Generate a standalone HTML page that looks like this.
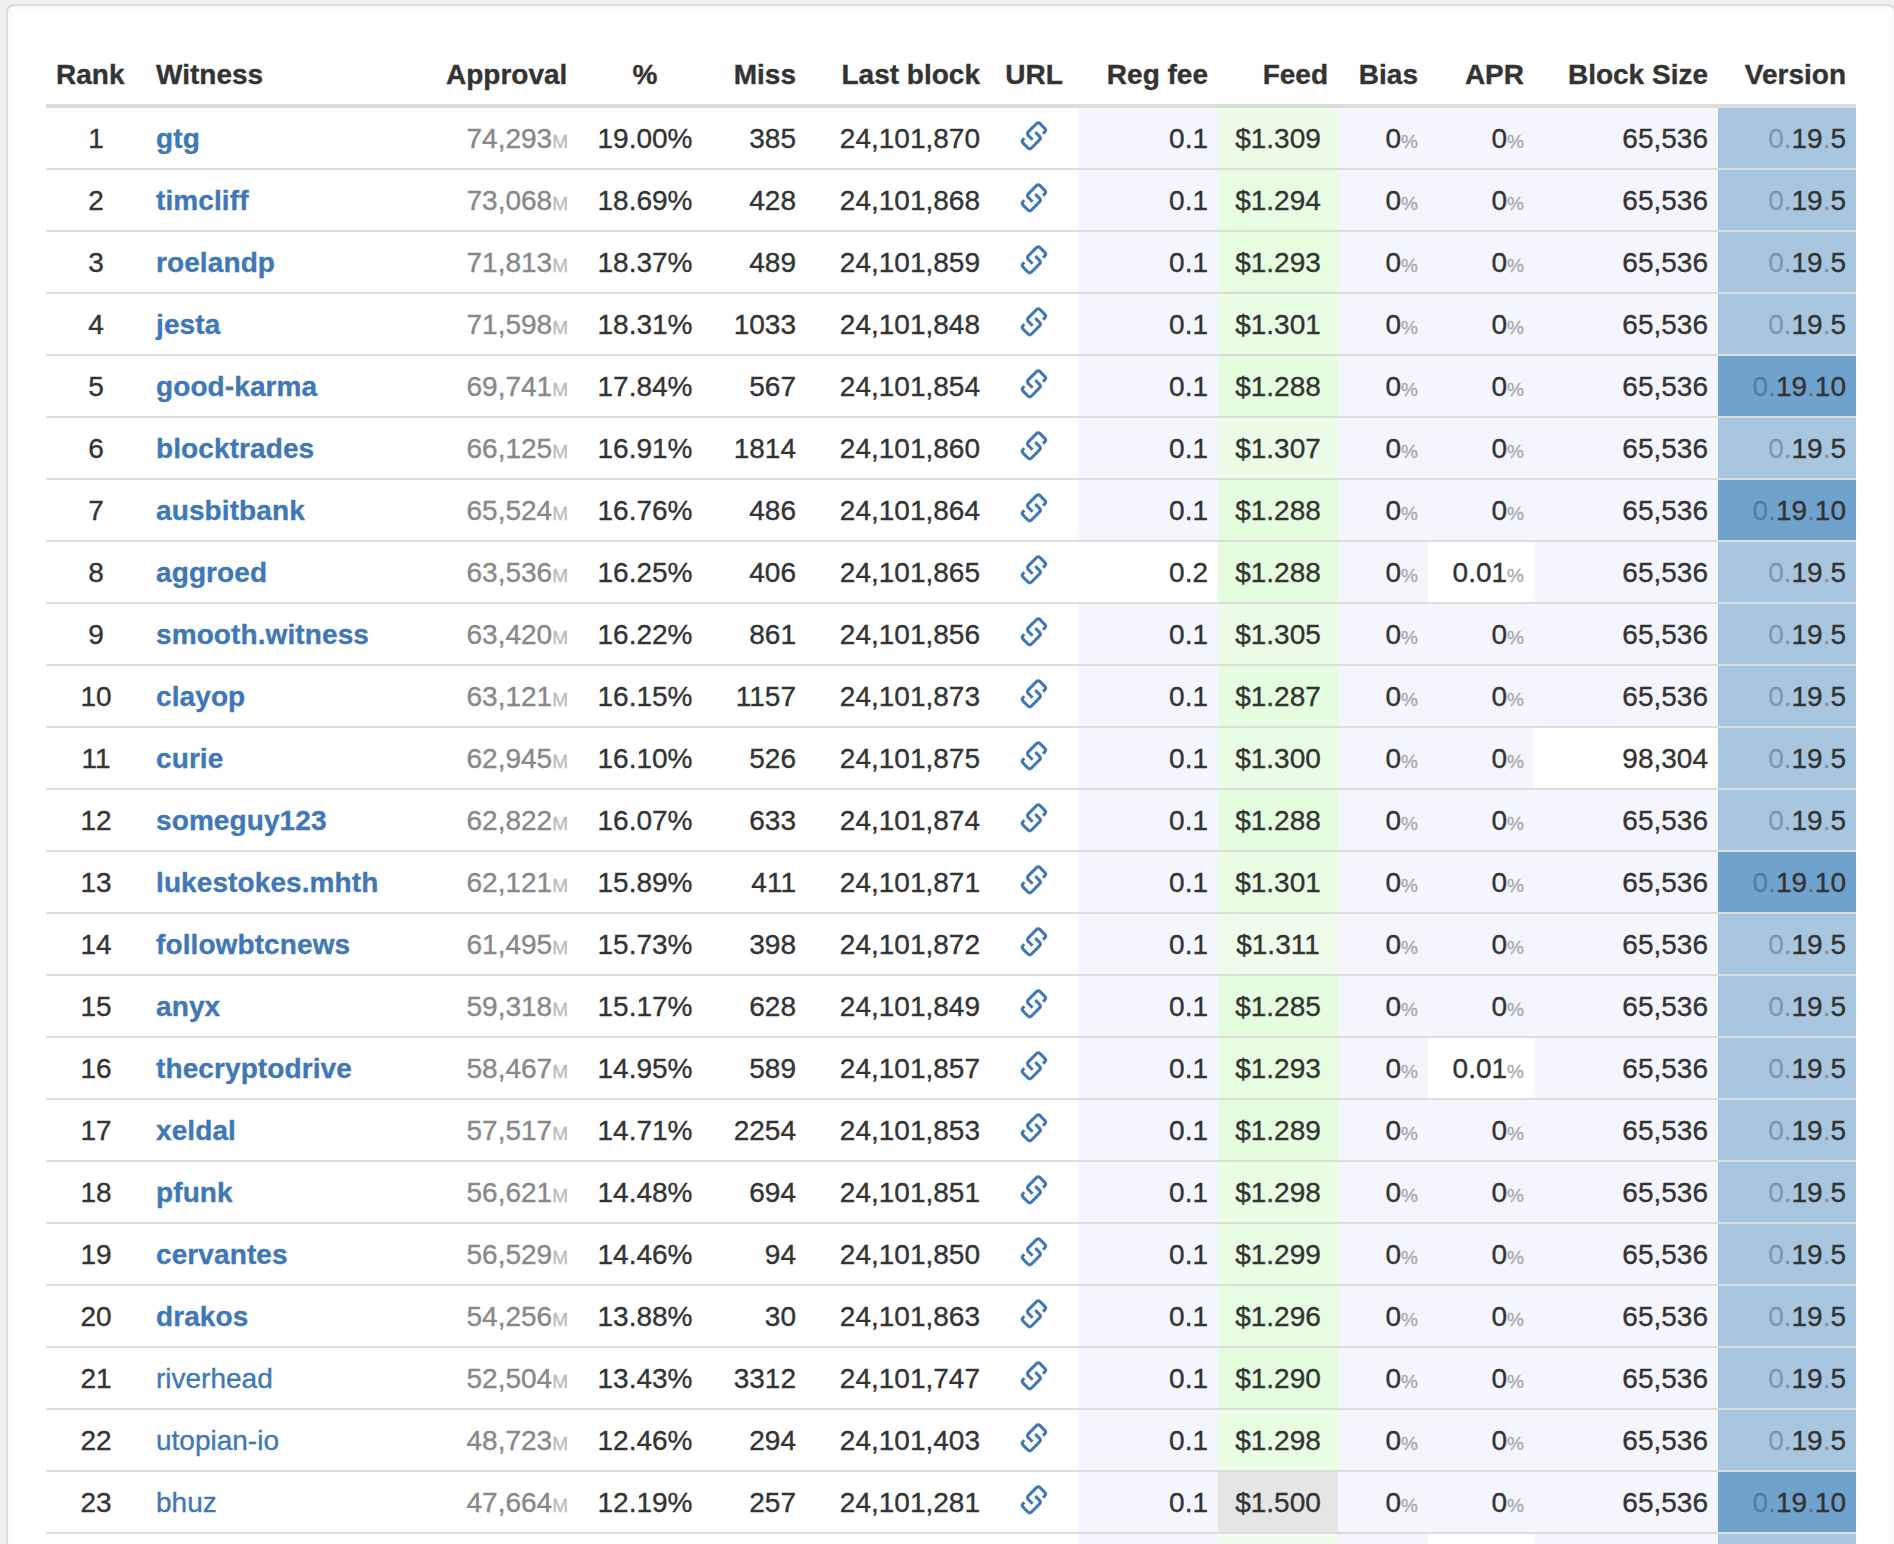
<!DOCTYPE html>
<html><head><meta charset="utf-8"><title>Witnesses</title>
<style>
html,body{margin:0;padding:0;}
body{width:1894px;height:1544px;overflow:hidden;background:#f0f0f0;font-family:"Liberation Sans",sans-serif;color:#333;position:relative;}
.panel{position:absolute;left:6px;top:4px;width:1890px;height:1700px;background:#fff;border:2px solid #dadada;border-radius:8px;box-sizing:border-box;box-shadow:inset 0 2px 8px rgba(0,0,0,0.04);}
table{position:absolute;left:46px;top:44px;width:1810px;border-collapse:separate;border-spacing:0;table-layout:fixed;font-size:28px;line-height:40px;}
th,td{padding:11px 10px 9px 10px;white-space:nowrap;overflow:visible;-webkit-text-stroke:0.35px currentColor;}
th{font-weight:bold;text-align:right;border-bottom:4px solid #ddd;vertical-align:bottom;}
td{border-bottom:2px solid #ddd;text-align:left;}
th.l{text-align:left;} th.c{text-align:center;}
td.c{text-align:center;} td.r{text-align:right;}
a{color:#3f78b5;text-decoration:none;}
a.b{font-weight:bold;letter-spacing:0.1px;}
.ap{color:#888;padding-right:9px;}
.m{font-size:19px;color:#bbb;line-height:1px;}
.pc{font-size:19px;color:#aaa;line-height:1px;}
.dim{color:rgba(0,0,0,0.24);}
.lav{background:#f5f5fe;}
.grn{background:#eaffe6;}
.gry{background:#e5e5e5;}
.vb1{background:#a8c6e0;}
.vb2{background:#6fa2cd;}
.lk{position:absolute;left:24px;top:8px;-webkit-text-stroke:0;}
td.u{position:relative;}
</style></head><body>
<div class="panel"></div>
<table>
<colgroup><col style="width:100px"><col style="width:290px"><col style="width:141px"><col style="width:136px"><col style="width:93px"><col style="width:184px"><col style="width:88px"><col style="width:140px"><col style="width:120px"><col style="width:90px"><col style="width:106px"><col style="width:184px"><col style="width:138px"></colgroup>
<thead><tr><th class="l">Rank</th><th class="l">Witness</th><th>Approval</th><th class="c">%</th><th>Miss</th><th>Last block</th><th class="c">URL</th><th>Reg fee</th><th>Feed</th><th>Bias</th><th>APR</th><th>Block Size</th><th>Version</th></tr></thead>
<tbody>
<tr><td class="c">1</td><td><a class="b">gtg</a></td><td class="r ap">74,293<span class="m">M</span></td><td class="c">19.00%</td><td class="r">385</td><td class="r">24,101,870</td><td class="c u"><svg class="lk" width="40" height="40" viewBox="4 1 40 40"><g transform="rotate(-45)" fill="none" stroke="#3f78b5" stroke-width="3" stroke-linejoin="round"><path d="M-1.53 33.5V27.34A2.5 2.5 0 0 1 0.97 24.84H12.64A2.5 2.5 0 0 1 15.14 27.34V34.05A2.5 2.5 0 0 1 12.64 36.55H10.2"/><path d="M5.76 30.0V36.00A2.5 2.5 0 0 1 3.26 38.5H-8.10A2.5 2.5 0 0 1 -10.6 36.00V29.10A2.5 2.5 0 0 1 -8.10 26.6H-6.3"/></g></svg></td><td class="r lav">0.1</td><td class="c " style="background:#edfce7">$1.309</td><td class="r lav">0<span class="pc">%</span></td><td class="r lav">0<span class="pc">%</span></td><td class="r lav">65,536</td><td class="r vb1"><span class="dim">0.</span>19<span class="dim">.</span>5</td></tr>
<tr><td class="c">2</td><td><a class="b">timcliff</a></td><td class="r ap">73,068<span class="m">M</span></td><td class="c">18.69%</td><td class="r">428</td><td class="r">24,101,868</td><td class="c u"><svg class="lk" width="40" height="40" viewBox="4 1 40 40"><g transform="rotate(-45)" fill="none" stroke="#3f78b5" stroke-width="3" stroke-linejoin="round"><path d="M-1.53 33.5V27.34A2.5 2.5 0 0 1 0.97 24.84H12.64A2.5 2.5 0 0 1 15.14 27.34V34.05A2.5 2.5 0 0 1 12.64 36.55H10.2"/><path d="M5.76 30.0V36.00A2.5 2.5 0 0 1 3.26 38.5H-8.10A2.5 2.5 0 0 1 -10.6 36.00V29.10A2.5 2.5 0 0 1 -8.10 26.6H-6.3"/></g></svg></td><td class="r lav">0.1</td><td class="c " style="background:#e6fde1">$1.294</td><td class="r lav">0<span class="pc">%</span></td><td class="r lav">0<span class="pc">%</span></td><td class="r lav">65,536</td><td class="r vb1"><span class="dim">0.</span>19<span class="dim">.</span>5</td></tr>
<tr><td class="c">3</td><td><a class="b">roelandp</a></td><td class="r ap">71,813<span class="m">M</span></td><td class="c">18.37%</td><td class="r">489</td><td class="r">24,101,859</td><td class="c u"><svg class="lk" width="40" height="40" viewBox="4 1 40 40"><g transform="rotate(-45)" fill="none" stroke="#3f78b5" stroke-width="3" stroke-linejoin="round"><path d="M-1.53 33.5V27.34A2.5 2.5 0 0 1 0.97 24.84H12.64A2.5 2.5 0 0 1 15.14 27.34V34.05A2.5 2.5 0 0 1 12.64 36.55H10.2"/><path d="M5.76 30.0V36.00A2.5 2.5 0 0 1 3.26 38.5H-8.10A2.5 2.5 0 0 1 -10.6 36.00V29.10A2.5 2.5 0 0 1 -8.10 26.6H-6.3"/></g></svg></td><td class="r lav">0.1</td><td class="c " style="background:#e6fde0">$1.293</td><td class="r lav">0<span class="pc">%</span></td><td class="r lav">0<span class="pc">%</span></td><td class="r lav">65,536</td><td class="r vb1"><span class="dim">0.</span>19<span class="dim">.</span>5</td></tr>
<tr><td class="c">4</td><td><a class="b">jesta</a></td><td class="r ap">71,598<span class="m">M</span></td><td class="c">18.31%</td><td class="r">1033</td><td class="r">24,101,848</td><td class="c u"><svg class="lk" width="40" height="40" viewBox="4 1 40 40"><g transform="rotate(-45)" fill="none" stroke="#3f78b5" stroke-width="3" stroke-linejoin="round"><path d="M-1.53 33.5V27.34A2.5 2.5 0 0 1 0.97 24.84H12.64A2.5 2.5 0 0 1 15.14 27.34V34.05A2.5 2.5 0 0 1 12.64 36.55H10.2"/><path d="M5.76 30.0V36.00A2.5 2.5 0 0 1 3.26 38.5H-8.10A2.5 2.5 0 0 1 -10.6 36.00V29.10A2.5 2.5 0 0 1 -8.10 26.6H-6.3"/></g></svg></td><td class="r lav">0.1</td><td class="c " style="background:#e9fde3">$1.301</td><td class="r lav">0<span class="pc">%</span></td><td class="r lav">0<span class="pc">%</span></td><td class="r lav">65,536</td><td class="r vb1"><span class="dim">0.</span>19<span class="dim">.</span>5</td></tr>
<tr><td class="c">5</td><td><a class="b">good-karma</a></td><td class="r ap">69,741<span class="m">M</span></td><td class="c">17.84%</td><td class="r">567</td><td class="r">24,101,854</td><td class="c u"><svg class="lk" width="40" height="40" viewBox="4 1 40 40"><g transform="rotate(-45)" fill="none" stroke="#3f78b5" stroke-width="3" stroke-linejoin="round"><path d="M-1.53 33.5V27.34A2.5 2.5 0 0 1 0.97 24.84H12.64A2.5 2.5 0 0 1 15.14 27.34V34.05A2.5 2.5 0 0 1 12.64 36.55H10.2"/><path d="M5.76 30.0V36.00A2.5 2.5 0 0 1 3.26 38.5H-8.10A2.5 2.5 0 0 1 -10.6 36.00V29.10A2.5 2.5 0 0 1 -8.10 26.6H-6.3"/></g></svg></td><td class="r lav">0.1</td><td class="c " style="background:#e5fddf">$1.288</td><td class="r lav">0<span class="pc">%</span></td><td class="r lav">0<span class="pc">%</span></td><td class="r lav">65,536</td><td class="r vb2"><span class="dim">0.</span>19<span class="dim">.</span>10</td></tr>
<tr><td class="c">6</td><td><a class="b">blocktrades</a></td><td class="r ap">66,125<span class="m">M</span></td><td class="c">16.91%</td><td class="r">1814</td><td class="r">24,101,860</td><td class="c u"><svg class="lk" width="40" height="40" viewBox="4 1 40 40"><g transform="rotate(-45)" fill="none" stroke="#3f78b5" stroke-width="3" stroke-linejoin="round"><path d="M-1.53 33.5V27.34A2.5 2.5 0 0 1 0.97 24.84H12.64A2.5 2.5 0 0 1 15.14 27.34V34.05A2.5 2.5 0 0 1 12.64 36.55H10.2"/><path d="M5.76 30.0V36.00A2.5 2.5 0 0 1 3.26 38.5H-8.10A2.5 2.5 0 0 1 -10.6 36.00V29.10A2.5 2.5 0 0 1 -8.10 26.6H-6.3"/></g></svg></td><td class="r lav">0.1</td><td class="c " style="background:#ebfce6">$1.307</td><td class="r lav">0<span class="pc">%</span></td><td class="r lav">0<span class="pc">%</span></td><td class="r lav">65,536</td><td class="r vb1"><span class="dim">0.</span>19<span class="dim">.</span>5</td></tr>
<tr><td class="c">7</td><td><a class="b">ausbitbank</a></td><td class="r ap">65,524<span class="m">M</span></td><td class="c">16.76%</td><td class="r">486</td><td class="r">24,101,864</td><td class="c u"><svg class="lk" width="40" height="40" viewBox="4 1 40 40"><g transform="rotate(-45)" fill="none" stroke="#3f78b5" stroke-width="3" stroke-linejoin="round"><path d="M-1.53 33.5V27.34A2.5 2.5 0 0 1 0.97 24.84H12.64A2.5 2.5 0 0 1 15.14 27.34V34.05A2.5 2.5 0 0 1 12.64 36.55H10.2"/><path d="M5.76 30.0V36.00A2.5 2.5 0 0 1 3.26 38.5H-8.10A2.5 2.5 0 0 1 -10.6 36.00V29.10A2.5 2.5 0 0 1 -8.10 26.6H-6.3"/></g></svg></td><td class="r lav">0.1</td><td class="c " style="background:#e5fddf">$1.288</td><td class="r lav">0<span class="pc">%</span></td><td class="r lav">0<span class="pc">%</span></td><td class="r lav">65,536</td><td class="r vb2"><span class="dim">0.</span>19<span class="dim">.</span>10</td></tr>
<tr><td class="c">8</td><td><a class="b">aggroed</a></td><td class="r ap">63,536<span class="m">M</span></td><td class="c">16.25%</td><td class="r">406</td><td class="r">24,101,865</td><td class="c u"><svg class="lk" width="40" height="40" viewBox="4 1 40 40"><g transform="rotate(-45)" fill="none" stroke="#3f78b5" stroke-width="3" stroke-linejoin="round"><path d="M-1.53 33.5V27.34A2.5 2.5 0 0 1 0.97 24.84H12.64A2.5 2.5 0 0 1 15.14 27.34V34.05A2.5 2.5 0 0 1 12.64 36.55H10.2"/><path d="M5.76 30.0V36.00A2.5 2.5 0 0 1 3.26 38.5H-8.10A2.5 2.5 0 0 1 -10.6 36.00V29.10A2.5 2.5 0 0 1 -8.10 26.6H-6.3"/></g></svg></td><td class="r ">0.2</td><td class="c " style="background:#e5fddf">$1.288</td><td class="r lav">0<span class="pc">%</span></td><td class="r ">0.01<span class="pc">%</span></td><td class="r lav">65,536</td><td class="r vb1"><span class="dim">0.</span>19<span class="dim">.</span>5</td></tr>
<tr><td class="c">9</td><td><a class="b">smooth.witness</a></td><td class="r ap">63,420<span class="m">M</span></td><td class="c">16.22%</td><td class="r">861</td><td class="r">24,101,856</td><td class="c u"><svg class="lk" width="40" height="40" viewBox="4 1 40 40"><g transform="rotate(-45)" fill="none" stroke="#3f78b5" stroke-width="3" stroke-linejoin="round"><path d="M-1.53 33.5V27.34A2.5 2.5 0 0 1 0.97 24.84H12.64A2.5 2.5 0 0 1 15.14 27.34V34.05A2.5 2.5 0 0 1 12.64 36.55H10.2"/><path d="M5.76 30.0V36.00A2.5 2.5 0 0 1 3.26 38.5H-8.10A2.5 2.5 0 0 1 -10.6 36.00V29.10A2.5 2.5 0 0 1 -8.10 26.6H-6.3"/></g></svg></td><td class="r lav">0.1</td><td class="c " style="background:#eafce5">$1.305</td><td class="r lav">0<span class="pc">%</span></td><td class="r lav">0<span class="pc">%</span></td><td class="r lav">65,536</td><td class="r vb1"><span class="dim">0.</span>19<span class="dim">.</span>5</td></tr>
<tr><td class="c">10</td><td><a class="b">clayop</a></td><td class="r ap">63,121<span class="m">M</span></td><td class="c">16.15%</td><td class="r">1157</td><td class="r">24,101,873</td><td class="c u"><svg class="lk" width="40" height="40" viewBox="4 1 40 40"><g transform="rotate(-45)" fill="none" stroke="#3f78b5" stroke-width="3" stroke-linejoin="round"><path d="M-1.53 33.5V27.34A2.5 2.5 0 0 1 0.97 24.84H12.64A2.5 2.5 0 0 1 15.14 27.34V34.05A2.5 2.5 0 0 1 12.64 36.55H10.2"/><path d="M5.76 30.0V36.00A2.5 2.5 0 0 1 3.26 38.5H-8.10A2.5 2.5 0 0 1 -10.6 36.00V29.10A2.5 2.5 0 0 1 -8.10 26.6H-6.3"/></g></svg></td><td class="r lav">0.1</td><td class="c " style="background:#e5fddf">$1.287</td><td class="r lav">0<span class="pc">%</span></td><td class="r lav">0<span class="pc">%</span></td><td class="r lav">65,536</td><td class="r vb1"><span class="dim">0.</span>19<span class="dim">.</span>5</td></tr>
<tr><td class="c">11</td><td><a class="b">curie</a></td><td class="r ap">62,945<span class="m">M</span></td><td class="c">16.10%</td><td class="r">526</td><td class="r">24,101,875</td><td class="c u"><svg class="lk" width="40" height="40" viewBox="4 1 40 40"><g transform="rotate(-45)" fill="none" stroke="#3f78b5" stroke-width="3" stroke-linejoin="round"><path d="M-1.53 33.5V27.34A2.5 2.5 0 0 1 0.97 24.84H12.64A2.5 2.5 0 0 1 15.14 27.34V34.05A2.5 2.5 0 0 1 12.64 36.55H10.2"/><path d="M5.76 30.0V36.00A2.5 2.5 0 0 1 3.26 38.5H-8.10A2.5 2.5 0 0 1 -10.6 36.00V29.10A2.5 2.5 0 0 1 -8.10 26.6H-6.3"/></g></svg></td><td class="r lav">0.1</td><td class="c " style="background:#e8fde3">$1.300</td><td class="r lav">0<span class="pc">%</span></td><td class="r lav">0<span class="pc">%</span></td><td class="r ">98,304</td><td class="r vb1"><span class="dim">0.</span>19<span class="dim">.</span>5</td></tr>
<tr><td class="c">12</td><td><a class="b">someguy123</a></td><td class="r ap">62,822<span class="m">M</span></td><td class="c">16.07%</td><td class="r">633</td><td class="r">24,101,874</td><td class="c u"><svg class="lk" width="40" height="40" viewBox="4 1 40 40"><g transform="rotate(-45)" fill="none" stroke="#3f78b5" stroke-width="3" stroke-linejoin="round"><path d="M-1.53 33.5V27.34A2.5 2.5 0 0 1 0.97 24.84H12.64A2.5 2.5 0 0 1 15.14 27.34V34.05A2.5 2.5 0 0 1 12.64 36.55H10.2"/><path d="M5.76 30.0V36.00A2.5 2.5 0 0 1 3.26 38.5H-8.10A2.5 2.5 0 0 1 -10.6 36.00V29.10A2.5 2.5 0 0 1 -8.10 26.6H-6.3"/></g></svg></td><td class="r lav">0.1</td><td class="c " style="background:#e5fddf">$1.288</td><td class="r lav">0<span class="pc">%</span></td><td class="r lav">0<span class="pc">%</span></td><td class="r lav">65,536</td><td class="r vb1"><span class="dim">0.</span>19<span class="dim">.</span>5</td></tr>
<tr><td class="c">13</td><td><a class="b">lukestokes.mhth</a></td><td class="r ap">62,121<span class="m">M</span></td><td class="c">15.89%</td><td class="r">411</td><td class="r">24,101,871</td><td class="c u"><svg class="lk" width="40" height="40" viewBox="4 1 40 40"><g transform="rotate(-45)" fill="none" stroke="#3f78b5" stroke-width="3" stroke-linejoin="round"><path d="M-1.53 33.5V27.34A2.5 2.5 0 0 1 0.97 24.84H12.64A2.5 2.5 0 0 1 15.14 27.34V34.05A2.5 2.5 0 0 1 12.64 36.55H10.2"/><path d="M5.76 30.0V36.00A2.5 2.5 0 0 1 3.26 38.5H-8.10A2.5 2.5 0 0 1 -10.6 36.00V29.10A2.5 2.5 0 0 1 -8.10 26.6H-6.3"/></g></svg></td><td class="r lav">0.1</td><td class="c " style="background:#e9fde3">$1.301</td><td class="r lav">0<span class="pc">%</span></td><td class="r lav">0<span class="pc">%</span></td><td class="r lav">65,536</td><td class="r vb2"><span class="dim">0.</span>19<span class="dim">.</span>10</td></tr>
<tr><td class="c">14</td><td><a class="b">followbtcnews</a></td><td class="r ap">61,495<span class="m">M</span></td><td class="c">15.73%</td><td class="r">398</td><td class="r">24,101,872</td><td class="c u"><svg class="lk" width="40" height="40" viewBox="4 1 40 40"><g transform="rotate(-45)" fill="none" stroke="#3f78b5" stroke-width="3" stroke-linejoin="round"><path d="M-1.53 33.5V27.34A2.5 2.5 0 0 1 0.97 24.84H12.64A2.5 2.5 0 0 1 15.14 27.34V34.05A2.5 2.5 0 0 1 12.64 36.55H10.2"/><path d="M5.76 30.0V36.00A2.5 2.5 0 0 1 3.26 38.5H-8.10A2.5 2.5 0 0 1 -10.6 36.00V29.10A2.5 2.5 0 0 1 -8.10 26.6H-6.3"/></g></svg></td><td class="r lav">0.1</td><td class="c " style="background:#effcea">$1.311</td><td class="r lav">0<span class="pc">%</span></td><td class="r lav">0<span class="pc">%</span></td><td class="r lav">65,536</td><td class="r vb1"><span class="dim">0.</span>19<span class="dim">.</span>5</td></tr>
<tr><td class="c">15</td><td><a class="b">anyx</a></td><td class="r ap">59,318<span class="m">M</span></td><td class="c">15.17%</td><td class="r">628</td><td class="r">24,101,849</td><td class="c u"><svg class="lk" width="40" height="40" viewBox="4 1 40 40"><g transform="rotate(-45)" fill="none" stroke="#3f78b5" stroke-width="3" stroke-linejoin="round"><path d="M-1.53 33.5V27.34A2.5 2.5 0 0 1 0.97 24.84H12.64A2.5 2.5 0 0 1 15.14 27.34V34.05A2.5 2.5 0 0 1 12.64 36.55H10.2"/><path d="M5.76 30.0V36.00A2.5 2.5 0 0 1 3.26 38.5H-8.10A2.5 2.5 0 0 1 -10.6 36.00V29.10A2.5 2.5 0 0 1 -8.10 26.6H-6.3"/></g></svg></td><td class="r lav">0.1</td><td class="c " style="background:#e4fdde">$1.285</td><td class="r lav">0<span class="pc">%</span></td><td class="r lav">0<span class="pc">%</span></td><td class="r lav">65,536</td><td class="r vb1"><span class="dim">0.</span>19<span class="dim">.</span>5</td></tr>
<tr><td class="c">16</td><td><a class="b">thecryptodrive</a></td><td class="r ap">58,467<span class="m">M</span></td><td class="c">14.95%</td><td class="r">589</td><td class="r">24,101,857</td><td class="c u"><svg class="lk" width="40" height="40" viewBox="4 1 40 40"><g transform="rotate(-45)" fill="none" stroke="#3f78b5" stroke-width="3" stroke-linejoin="round"><path d="M-1.53 33.5V27.34A2.5 2.5 0 0 1 0.97 24.84H12.64A2.5 2.5 0 0 1 15.14 27.34V34.05A2.5 2.5 0 0 1 12.64 36.55H10.2"/><path d="M5.76 30.0V36.00A2.5 2.5 0 0 1 3.26 38.5H-8.10A2.5 2.5 0 0 1 -10.6 36.00V29.10A2.5 2.5 0 0 1 -8.10 26.6H-6.3"/></g></svg></td><td class="r lav">0.1</td><td class="c " style="background:#e6fde0">$1.293</td><td class="r lav">0<span class="pc">%</span></td><td class="r ">0.01<span class="pc">%</span></td><td class="r lav">65,536</td><td class="r vb1"><span class="dim">0.</span>19<span class="dim">.</span>5</td></tr>
<tr><td class="c">17</td><td><a class="b">xeldal</a></td><td class="r ap">57,517<span class="m">M</span></td><td class="c">14.71%</td><td class="r">2254</td><td class="r">24,101,853</td><td class="c u"><svg class="lk" width="40" height="40" viewBox="4 1 40 40"><g transform="rotate(-45)" fill="none" stroke="#3f78b5" stroke-width="3" stroke-linejoin="round"><path d="M-1.53 33.5V27.34A2.5 2.5 0 0 1 0.97 24.84H12.64A2.5 2.5 0 0 1 15.14 27.34V34.05A2.5 2.5 0 0 1 12.64 36.55H10.2"/><path d="M5.76 30.0V36.00A2.5 2.5 0 0 1 3.26 38.5H-8.10A2.5 2.5 0 0 1 -10.6 36.00V29.10A2.5 2.5 0 0 1 -8.10 26.6H-6.3"/></g></svg></td><td class="r lav">0.1</td><td class="c " style="background:#e5fddf">$1.289</td><td class="r lav">0<span class="pc">%</span></td><td class="r lav">0<span class="pc">%</span></td><td class="r lav">65,536</td><td class="r vb1"><span class="dim">0.</span>19<span class="dim">.</span>5</td></tr>
<tr><td class="c">18</td><td><a class="b">pfunk</a></td><td class="r ap">56,621<span class="m">M</span></td><td class="c">14.48%</td><td class="r">694</td><td class="r">24,101,851</td><td class="c u"><svg class="lk" width="40" height="40" viewBox="4 1 40 40"><g transform="rotate(-45)" fill="none" stroke="#3f78b5" stroke-width="3" stroke-linejoin="round"><path d="M-1.53 33.5V27.34A2.5 2.5 0 0 1 0.97 24.84H12.64A2.5 2.5 0 0 1 15.14 27.34V34.05A2.5 2.5 0 0 1 12.64 36.55H10.2"/><path d="M5.76 30.0V36.00A2.5 2.5 0 0 1 3.26 38.5H-8.10A2.5 2.5 0 0 1 -10.6 36.00V29.10A2.5 2.5 0 0 1 -8.10 26.6H-6.3"/></g></svg></td><td class="r lav">0.1</td><td class="c " style="background:#e8fde2">$1.298</td><td class="r lav">0<span class="pc">%</span></td><td class="r lav">0<span class="pc">%</span></td><td class="r lav">65,536</td><td class="r vb1"><span class="dim">0.</span>19<span class="dim">.</span>5</td></tr>
<tr><td class="c">19</td><td><a class="b">cervantes</a></td><td class="r ap">56,529<span class="m">M</span></td><td class="c">14.46%</td><td class="r">94</td><td class="r">24,101,850</td><td class="c u"><svg class="lk" width="40" height="40" viewBox="4 1 40 40"><g transform="rotate(-45)" fill="none" stroke="#3f78b5" stroke-width="3" stroke-linejoin="round"><path d="M-1.53 33.5V27.34A2.5 2.5 0 0 1 0.97 24.84H12.64A2.5 2.5 0 0 1 15.14 27.34V34.05A2.5 2.5 0 0 1 12.64 36.55H10.2"/><path d="M5.76 30.0V36.00A2.5 2.5 0 0 1 3.26 38.5H-8.10A2.5 2.5 0 0 1 -10.6 36.00V29.10A2.5 2.5 0 0 1 -8.10 26.6H-6.3"/></g></svg></td><td class="r lav">0.1</td><td class="c " style="background:#e8fde2">$1.299</td><td class="r lav">0<span class="pc">%</span></td><td class="r lav">0<span class="pc">%</span></td><td class="r lav">65,536</td><td class="r vb1"><span class="dim">0.</span>19<span class="dim">.</span>5</td></tr>
<tr><td class="c">20</td><td><a class="b">drakos</a></td><td class="r ap">54,256<span class="m">M</span></td><td class="c">13.88%</td><td class="r">30</td><td class="r">24,101,863</td><td class="c u"><svg class="lk" width="40" height="40" viewBox="4 1 40 40"><g transform="rotate(-45)" fill="none" stroke="#3f78b5" stroke-width="3" stroke-linejoin="round"><path d="M-1.53 33.5V27.34A2.5 2.5 0 0 1 0.97 24.84H12.64A2.5 2.5 0 0 1 15.14 27.34V34.05A2.5 2.5 0 0 1 12.64 36.55H10.2"/><path d="M5.76 30.0V36.00A2.5 2.5 0 0 1 3.26 38.5H-8.10A2.5 2.5 0 0 1 -10.6 36.00V29.10A2.5 2.5 0 0 1 -8.10 26.6H-6.3"/></g></svg></td><td class="r lav">0.1</td><td class="c " style="background:#e7fde1">$1.296</td><td class="r lav">0<span class="pc">%</span></td><td class="r lav">0<span class="pc">%</span></td><td class="r lav">65,536</td><td class="r vb1"><span class="dim">0.</span>19<span class="dim">.</span>5</td></tr>
<tr><td class="c">21</td><td><a class="">riverhead</a></td><td class="r ap">52,504<span class="m">M</span></td><td class="c">13.43%</td><td class="r">3312</td><td class="r">24,101,747</td><td class="c u"><svg class="lk" width="40" height="40" viewBox="4 1 40 40"><g transform="rotate(-45)" fill="none" stroke="#3f78b5" stroke-width="3" stroke-linejoin="round"><path d="M-1.53 33.5V27.34A2.5 2.5 0 0 1 0.97 24.84H12.64A2.5 2.5 0 0 1 15.14 27.34V34.05A2.5 2.5 0 0 1 12.64 36.55H10.2"/><path d="M5.76 30.0V36.00A2.5 2.5 0 0 1 3.26 38.5H-8.10A2.5 2.5 0 0 1 -10.6 36.00V29.10A2.5 2.5 0 0 1 -8.10 26.6H-6.3"/></g></svg></td><td class="r lav">0.1</td><td class="c " style="background:#e5fddf">$1.290</td><td class="r lav">0<span class="pc">%</span></td><td class="r lav">0<span class="pc">%</span></td><td class="r lav">65,536</td><td class="r vb1"><span class="dim">0.</span>19<span class="dim">.</span>5</td></tr>
<tr><td class="c">22</td><td><a class="">utopian-io</a></td><td class="r ap">48,723<span class="m">M</span></td><td class="c">12.46%</td><td class="r">294</td><td class="r">24,101,403</td><td class="c u"><svg class="lk" width="40" height="40" viewBox="4 1 40 40"><g transform="rotate(-45)" fill="none" stroke="#3f78b5" stroke-width="3" stroke-linejoin="round"><path d="M-1.53 33.5V27.34A2.5 2.5 0 0 1 0.97 24.84H12.64A2.5 2.5 0 0 1 15.14 27.34V34.05A2.5 2.5 0 0 1 12.64 36.55H10.2"/><path d="M5.76 30.0V36.00A2.5 2.5 0 0 1 3.26 38.5H-8.10A2.5 2.5 0 0 1 -10.6 36.00V29.10A2.5 2.5 0 0 1 -8.10 26.6H-6.3"/></g></svg></td><td class="r lav">0.1</td><td class="c " style="background:#e8fde2">$1.298</td><td class="r lav">0<span class="pc">%</span></td><td class="r lav">0<span class="pc">%</span></td><td class="r lav">65,536</td><td class="r vb1"><span class="dim">0.</span>19<span class="dim">.</span>5</td></tr>
<tr><td class="c">23</td><td><a class="">bhuz</a></td><td class="r ap">47,664<span class="m">M</span></td><td class="c">12.19%</td><td class="r">257</td><td class="r">24,101,281</td><td class="c u"><svg class="lk" width="40" height="40" viewBox="4 1 40 40"><g transform="rotate(-45)" fill="none" stroke="#3f78b5" stroke-width="3" stroke-linejoin="round"><path d="M-1.53 33.5V27.34A2.5 2.5 0 0 1 0.97 24.84H12.64A2.5 2.5 0 0 1 15.14 27.34V34.05A2.5 2.5 0 0 1 12.64 36.55H10.2"/><path d="M5.76 30.0V36.00A2.5 2.5 0 0 1 3.26 38.5H-8.10A2.5 2.5 0 0 1 -10.6 36.00V29.10A2.5 2.5 0 0 1 -8.10 26.6H-6.3"/></g></svg></td><td class="r lav">0.1</td><td class="c gry">$1.500</td><td class="r lav">0<span class="pc">%</span></td><td class="r lav">0<span class="pc">%</span></td><td class="r lav">65,536</td><td class="r vb2"><span class="dim">0.</span>19<span class="dim">.</span>10</td></tr>
<tr><td></td><td></td><td></td><td></td><td></td><td></td><td></td><td class="r lav"></td><td class="c" style="background:#f0fcec"></td><td class="r lav"></td><td class="r "></td><td class="r lav"></td><td class="r vb1"></td></tr>
</tbody></table>
</body></html>
